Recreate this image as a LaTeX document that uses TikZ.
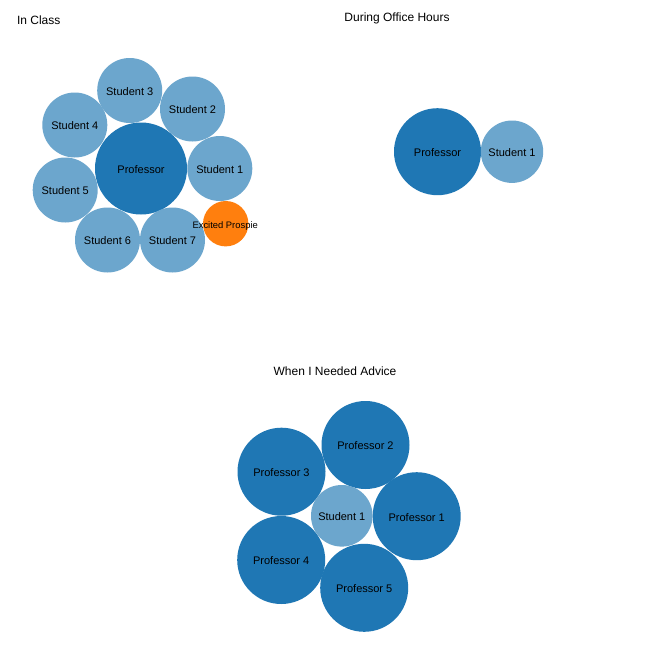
\documentclass[tikz,border=0pt]{standalone}
\usepackage{fontspec}
\setmainfont{Liberation Sans}
\definecolor{darkb}{HTML}{1F77B4}
\definecolor{lightb}{RGB}{108,166,205}
\definecolor{orng}{HTML}{FF7F0E}
\begin{document}
\begin{tikzpicture}[x=1pt,y=-1pt,
  bub/.style={circle,inner sep=0pt,minimum size=#1*2pt,font=\fontsize{11}{13}\selectfont,text=black,text height=9.9pt,text depth=0pt},
  prof/.style={bub=44,fill=darkb},
  stud/.style={bub=32.5,fill=lightb},
  ttl/.style={font=\fontsize{12}{14}\selectfont,inner sep=0pt}]
\useasboundingbox (0,0) rectangle (647,651);
\fill[white] (0,0) rectangle (647,651);
% In Class
\node[ttl] (t1) at (38.7,20) {In Class};
\node[prof,minimum size=92pt] (p) at (141,168.5) {Professor};
\node[stud] (s3) at (129.7,90.5) {Student 3};
\node[stud] (s2) at (192.5,109) {Student 2};
\node[stud] (s4) at (74.8,125) {Student 4};
\node[stud] (s1) at (219.8,168.5) {Student 1};
\node[stud] (s5) at (65.2,190) {Student 5};
\node[stud] (s6) at (107.5,240) {Student 6};
\node[stud] (s7) at (172.5,240) {Student 7};
\node[bub=22.7,fill=orng] (ep) at (225.7,223.7) {};
\node[inner sep=0pt,font=\fontsize{9.4}{11}\selectfont,text height=8.5pt,text depth=0pt] (eplabel) at (225.2,224.3) {Excited Prospie};
% During Office Hours
\node[ttl] (t2) at (397,18.5) {During Office Hours};
\node[prof,minimum size=87pt] (op) at (437.5,151.7) {Professor};
\node[stud,minimum size=62.4pt] (os1) at (512,151.7) {Student 1};
% When I Needed Advice
\node[ttl] (t3) at (335,371.5) {When I Needed Advice};
\node[prof] (ap2) at (365.5,445) {Professor 2};
\node[prof] (ap3) at (281.5,471.7) {Professor 3};
\node[prof] (ap1) at (416.7,516.2) {Professor 1};
\node[stud,minimum size=61.6pt] (as1) at (341.8,515.8) {Student 1};
\node[prof] (ap4) at (281.2,560) {Professor 4};
\node[prof] (ap5) at (364.2,587.8) {Professor 5};
\end{tikzpicture}
\end{document}
